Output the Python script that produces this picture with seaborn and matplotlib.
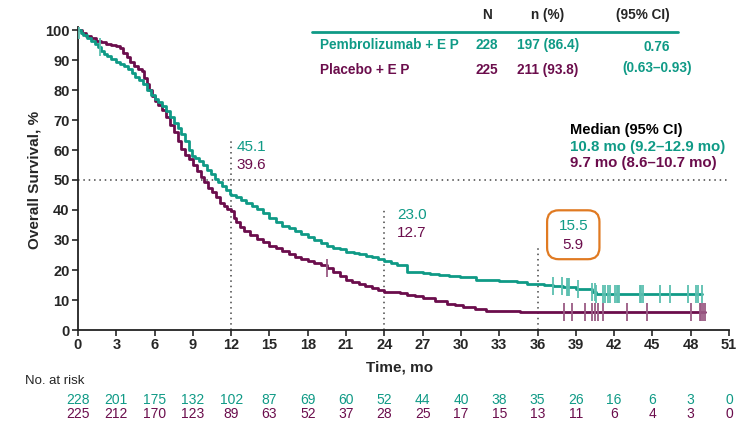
import numpy as np
import pandas as pd
import matplotlib
matplotlib.use("Agg")
import matplotlib.pyplot as plt
from matplotlib.patches import FancyBboxPatch
import seaborn as sns

# ---------------- data ----------------
pem_t = [0, 0.2, 0.4, 0.7, 1.0, 1.3, 1.6, 1.8, 2.0, 2.3, 2.6, 3.0, 3.3, 3.6, 3.9, 4.2, 4.5,
         4.8, 5.1, 5.4, 5.7, 6.0, 6.3, 6.6, 6.9, 7.2, 7.5, 7.8, 8.1, 8.4, 8.7, 8.9, 9.2,
         9.5, 9.8, 10.1, 10.4, 10.7, 11.0, 11.3, 11.6, 11.9, 12.0, 12.4, 12.8, 13.2, 13.6,
         14.0, 14.5, 15.0, 15.5, 16.0, 16.5, 17.0, 17.5, 18.0, 18.5, 19.0, 19.5, 20.0,
         20.5, 21, 21.6, 22, 22.6, 23, 23.5, 24, 24.5, 25, 25.8, 26.4, 27, 27.6, 28.3,
         29.1, 29.9, 31.2, 33, 34.4, 35.2, 36.5, 37.2, 38, 39, 40.3, 40.6, 48.9]
pem_s = [100, 99, 98.5, 97.5, 96.5, 95.5, 94.5, 93, 92, 91.3, 90.5, 89.5, 88.8, 88, 87,
         85.8, 84.5, 83.5, 82, 80, 78.5, 77, 76, 74.8, 73, 71, 69, 67.5, 65.5, 63, 60, 58,
         57.5, 56.5, 55, 53.5, 52, 50.5, 49.3, 48, 46.8, 45.5, 45.1, 44.3, 43.3, 42.3,
         41.3, 40.5, 39, 37.5, 36, 34.8, 34, 33, 32, 31, 30, 29, 28, 27.5, 27, 26,
         25.6, 25.3, 24.8, 24.3, 23.7, 23, 22.3, 21.7, 19.5, 19.2, 19, 18.7, 18.3,
         18, 17.7, 16.7, 16.3, 16, 15.5, 15, 14.7, 14.2, 13.7, 12.7, 12, 12]

pla_t = [0, 0.3, 0.6, 1.0, 1.4, 1.8, 2.2, 2.6, 3.0, 3.3, 3.5, 3.8, 4.1, 4.4, 4.7, 5.0,
         5.2, 5.4, 5.6, 5.8, 6.0, 6.3, 6.6, 6.9, 7.2, 7.5, 7.8, 8.1, 8.4, 8.7, 9.0, 9.3,
         9.6, 9.9, 10.2, 10.5, 10.8, 11.1, 11.4, 11.7, 12.0, 12.2, 12.4, 12.7, 13.0,
         13.5, 14.0, 14.5, 15.0, 15.5, 16.0, 16.5, 17.0, 17.5, 18.0, 18.5, 19.0, 19.5,
         20.0, 20.5, 21, 21.5, 22, 22.5, 23, 23.5, 24, 25.2, 25.8, 26.4, 27, 28, 28.9,
         29.5, 30.2, 31.1, 32, 34.6, 49.1]
pla_s = [100, 99, 98, 97.3, 96.5, 96, 95.5, 95, 94.7, 94, 92.5, 91, 89.5, 88, 87, 86.2,
         84, 82, 80, 78, 76.5, 75, 73.5, 71, 68.5, 66, 63, 60.5, 58.5, 57, 55, 53,
         51, 49.3, 47.5, 46, 44.3, 42.5, 41.3, 40.5, 39.6, 37.5, 36, 34.3, 33,
         31.7, 30.5, 29.3, 28, 27.3, 26.5, 25.3, 24.3, 23.7, 23, 22.3, 21.7, 20.7,
         19.3, 18, 16.7, 16, 15.3, 14.7, 14, 13.3, 12.7, 12.3, 11.7, 11.2, 10.7, 9.7,
         8.7, 8.2, 7.7, 7, 6.3, 5.9, 5.9]

pem_cens = [0.1, 1.7, 37.2, 37.9, 38.3, 38.4, 38.5, 39.2, 40.3, 40.5, 40.6, 41.1, 41.3,
            41.5, 41.7, 42.1, 42.2, 42.3, 42.4, 44.0, 44.1, 44.3, 45.6, 46.4, 47.8,
            48.4, 48.6, 48.9]
pla_cens = [19.5, 38.1, 38.7, 39.7, 40.3, 40.5, 40.7, 41.1, 43.0, 44.6, 48.0, 48.7,
            48.8, 49.0, 49.1]

risk_times = list(range(0, 52, 3))
risk_pem = [228, 201, 175, 132, 102, 87, 69, 60, 52, 44, 40, 38, 35, 26, 16, 6, 3, 0]
risk_pla = [225, 212, 170, 123, 89, 63, 52, 37, 28, 25, 17, 15, 13, 11, 6, 4, 3, 0]

landmarks = [12, 24, 36]
lm_pem = ["45.1", "23.0", "15.5"]
lm_pla = ["39.6", "12.7", "5.9"]

arm_names = ["Pembrolizumab + E P", "Placebo + E P"]
arm_N = ["228", "225"]
arm_events = ["197 (86.4)", "211 (93.8)"]
hr_text = ["0.76", "(0.63\u20130.93)"]
median_text = ["10.8 mo (9.2\u201312.9 mo)", "9.7 mo (8.6\u201310.7 mo)"]

TEAL = "#0f9a86"
PLUM = "#6b0d4c"
TEAL_L = "#5cbfb0"
PLUM_L = "#9a5a84"
ORANGE = "#e07a22"

# ---------------- style ----------------
sns.set_style("ticks")
plt.rcParams["font.family"] = ["Liberation Sans Narrow", "Liberation Sans", "DejaVu Sans"]

W, H = 743, 421
fig = plt.figure(figsize=(W / 100, H / 100), dpi=100)
ax = fig.add_axes([78 / W, 1 - 330 / H, (729 - 78) / W, (330 - 27) / H])


def fx(px):
    return px / W


def fy(py):
    return 1 - py / H


def step_at(times, surv, t):
    idx = np.searchsorted(np.asarray(times), t, side="right") - 1
    return np.asarray(surv)[np.clip(idx, 0, len(surv) - 1)]


df_pem = pd.DataFrame({"t": pem_t, "s": pem_s})
df_pla = pd.DataFrame({"t": pla_t, "s": pla_s})

sns.lineplot(data=df_pla, x="t", y="s", drawstyle="steps-post", color=PLUM,
             linewidth=2.0, estimator=None, sort=False, ax=ax)
sns.lineplot(data=df_pem, x="t", y="s", drawstyle="steps-post", color=TEAL,
             linewidth=2.0, estimator=None, sort=False, ax=ax)

# censor marks
ax.plot(pem_cens, step_at(pem_t, pem_s, pem_cens), ls="none", marker="|",
        ms=13, mew=1.3, color=TEAL_L, zorder=3)
ax.plot(pla_cens, step_at(pla_t, pla_s, pla_cens), ls="none", marker="|",
        ms=13, mew=1.3, color=PLUM_L, zorder=3)

# reference lines
ax.axhline(50, color="#444444", lw=1.1, ls=(0, (1, 2.5)), zorder=1)
lm_tops = [63, 40.7, 27.7]
for x, top in zip(landmarks, lm_tops):
    ax.plot([x, x], [0, top], color="#444444", lw=1.1, ls=(0, (1, 2.5)), zorder=1)

# landmark labels
lab_pos = [(12.4, 61, 55), (25.0, 38.3, 32.3)]
for (x, y1, y2), a, b in zip(lab_pos, lm_pem[:2], lm_pla[:2]):
    ax.text(x, y1, a, color=TEAL, fontsize=11, ha="left", va="center")
    ax.text(x, y2, b, color=PLUM, fontsize=11, ha="left", va="center")
ax.text(38.8, 34.5, lm_pem[2], color=TEAL, fontsize=11, ha="center", va="center")
ax.text(38.8, 28.3, lm_pla[2], color=PLUM, fontsize=11, ha="center", va="center")
box = FancyBboxPatch((36.75, 23.6), 4.1, 16.3, boxstyle="round,pad=0,rounding_size=0.9",
                     mutation_aspect=4.25,
                     fill=False, ec=ORANGE, lw=1.6, zorder=4)
ax.add_patch(box)

# axes
ax.set_xlim(0, 51)
ax.set_ylim(0, 101)
ax.set_xticks(risk_times)
ax.set_yticks(range(0, 101, 10))
ax.tick_params(axis="both", labelsize=10.5, length=4, width=1.2, direction="out", pad=2)
for lab in ax.get_xticklabels() + ax.get_yticklabels():
    lab.set_fontweight("bold")
for sp in ["top", "right"]:
    ax.spines[sp].set_visible(False)
for sp in ["left", "bottom"]:
    ax.spines[sp].set_linewidth(1.3)
    ax.spines[sp].set_color("#222222")
ax.set_xlabel("")
ax.set_ylabel("")
fig.text(fx(35), fy(180), "Overall Survival, %", rotation=90, fontsize=11,
         fontweight="bold", ha="center", va="center")
fig.text(fx(400), fy(367), "Time, mo", fontsize=11, fontweight="bold",
         ha="center", va="center")

# risk table
fig.text(fx(25), fy(381), "No. at risk", fontsize=9.5,
         ha="left", va="center")
for t, a, b in zip(risk_times, risk_pem, risk_pla):
    xpx = 78 + t * (729 - 78) / 51
    fig.text(fx(xpx), fy(400), str(a), color=TEAL, fontsize=10, ha="center", va="center")
    fig.text(fx(xpx), fy(414), str(b), color=PLUM, fontsize=10, ha="center", va="center")

# header table
TS = 9.8
fig.text(fx(487), fy(15), "N", fontsize=TS, fontweight="bold", ha="center", va="center")
fig.text(fx(548), fy(15), "n (%)", fontsize=TS, fontweight="bold", ha="center", va="center")
fig.text(fx(643), fy(15), "(95% CI)", fontsize=TS, fontweight="bold", ha="center", va="center")
fig.add_artist(plt.Line2D([fx(312), fx(678)], [fy(31.5), fy(31.5)], color=TEAL, lw=2.0))
rows_y = [45, 70]
cols = [TEAL, PLUM]
for name, n, ev, yy, c in zip(arm_names, arm_N, arm_events, rows_y, cols):
    fig.text(fx(320), fy(yy), name, color=c, fontsize=TS, fontweight="bold",
             ha="left", va="center")
    fig.text(fx(487), fy(yy), n, color=c, fontsize=TS, fontweight="bold",
             ha="center", va="center")
    fig.text(fx(548), fy(yy), ev, color=c, fontsize=TS, fontweight="bold",
             ha="center", va="center")
fig.text(fx(657), fy(47), hr_text[0], color=TEAL, fontsize=TS, fontweight="bold",
         ha="center", va="center")
fig.text(fx(657), fy(68), hr_text[1], color=TEAL, fontsize=TS, fontweight="bold",
         ha="center", va="center")

# median text
fig.text(fx(570), fy(130), "Median (95% CI)", color="black", fontsize=10.5,
         fontweight="bold", ha="left", va="center")
fig.text(fx(570), fy(147), median_text[0], color=TEAL, fontsize=10.8,
         fontweight="bold", ha="left", va="center")
fig.text(fx(570), fy(163), median_text[1], color=PLUM, fontsize=10.8,
         fontweight="bold", ha="left", va="center")

fig.savefig("out.png", dpi=100)
